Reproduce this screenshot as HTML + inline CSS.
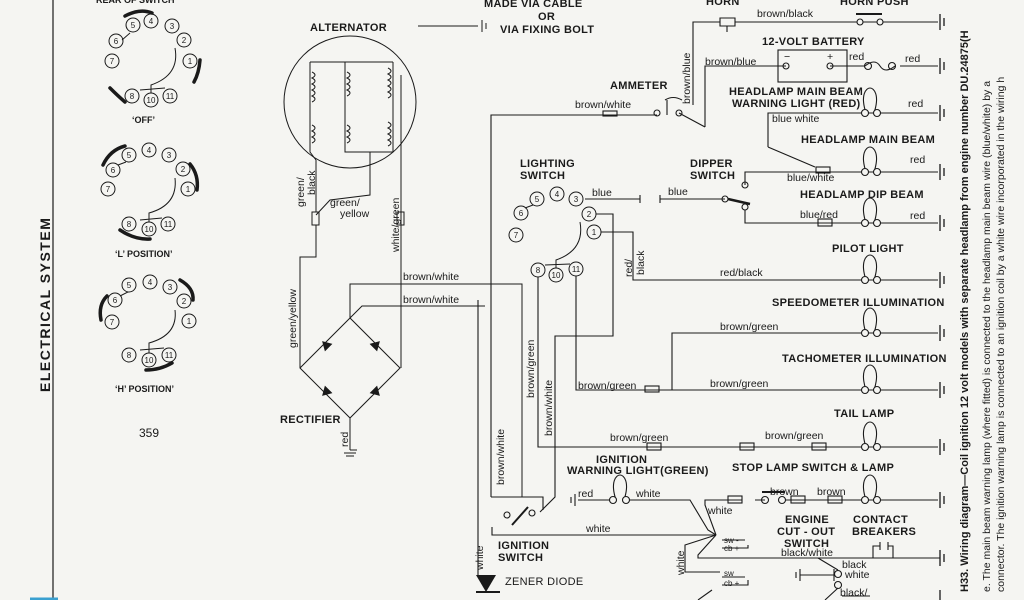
<!DOCTYPE html>
<html><head><meta charset="utf-8"><style>
html,body{margin:0;padding:0;background:#f5f5f2;}
svg{display:block}
text{font-family:"Liberation Sans",sans-serif;fill:#1a1a1a}
.t{font-size:11px;font-weight:bold;letter-spacing:0.3px}
.w{font-size:10.5px}
.n{font-size:8px;text-anchor:middle}
</style></head><body>
<svg width="1024" height="600" viewBox="0 0 1024 600" xmlns="http://www.w3.org/2000/svg">
<rect width="1024" height="600" fill="#f5f5f2"/>
<g stroke="#1a1a1a" stroke-width="1.2" fill="none">
<line x1="53" y1="0" x2="53" y2="600"/>
<line x1="30" y1="599" x2="58" y2="599" stroke="#3aa0d0" stroke-width="3"/>
</g>
<text class="t" transform="translate(50,392) rotate(-90)" style="font-size:14px;letter-spacing:1.5px">ELECTRICAL SYSTEM</text>
<text class="w" x="96" y="3" style="font-size:9px;font-weight:bold">REAR OF SWITCH</text>
<text class="w" x="132" y="123" style="font-size:9px;font-weight:bold">‘OFF’</text>
<text class="w" x="115" y="257" style="font-size:9px;font-weight:bold">‘L’ POSITION’</text>
<text class="w" x="115" y="392" style="font-size:9px;font-weight:bold">‘H’ POSITION’</text>
<text class="w" x="139" y="437" style="font-size:12px">359</text>

<g stroke="#1a1a1a" stroke-width="1" fill="#f5f5f2">
<circle cx="133" cy="25" r="7"/><circle cx="151" cy="21" r="7"/><circle cx="172" cy="26" r="7"/><circle cx="184" cy="40" r="7"/><circle cx="190" cy="61" r="7"/><circle cx="116" cy="41" r="7"/><circle cx="112" cy="61" r="7"/><circle cx="132" cy="96" r="7"/><circle cx="151" cy="100" r="7"/><circle cx="170" cy="96" r="7"/>
<circle cx="129" cy="155" r="7"/><circle cx="149" cy="150" r="7"/><circle cx="169" cy="155" r="7"/><circle cx="183" cy="169" r="7"/><circle cx="188" cy="189" r="7"/><circle cx="113" cy="170" r="7"/><circle cx="108" cy="189" r="7"/><circle cx="129" cy="224" r="7"/><circle cx="149" cy="229" r="7"/><circle cx="168" cy="224" r="7"/>
<circle cx="129" cy="285" r="7"/><circle cx="150" cy="282" r="7"/><circle cx="170" cy="287" r="7"/><circle cx="184" cy="301" r="7"/><circle cx="189" cy="321" r="7"/><circle cx="115" cy="300" r="7"/><circle cx="112" cy="322" r="7"/><circle cx="129" cy="355" r="7"/><circle cx="149" cy="360" r="7"/><circle cx="169" cy="355" r="7"/>
<circle cx="557" cy="194" r="7"/><circle cx="537" cy="199" r="7"/><circle cx="576" cy="199" r="7"/><circle cx="521" cy="213" r="7"/><circle cx="516" cy="235" r="7"/><circle cx="589" cy="214" r="7"/><circle cx="594" cy="232" r="7"/><circle cx="538" cy="270" r="7"/><circle cx="556" cy="275" r="7"/><circle cx="576" cy="269" r="7"/>
</g>
<g class="n">
<text x="133" y="28">5</text><text x="151" y="24">4</text><text x="172" y="29">3</text><text x="184" y="43">2</text><text x="190" y="64">1</text><text x="116" y="44">6</text><text x="112" y="64">7</text><text x="132" y="99">8</text><text x="151" y="103">10</text><text x="170" y="99">11</text>
<text x="129" y="158">5</text><text x="149" y="153">4</text><text x="169" y="158">3</text><text x="183" y="172">2</text><text x="188" y="192">1</text><text x="113" y="173">6</text><text x="108" y="192">7</text><text x="129" y="227">8</text><text x="149" y="232">10</text><text x="168" y="227">11</text>
<text x="129" y="288">5</text><text x="150" y="285">4</text><text x="170" y="290">3</text><text x="184" y="304">2</text><text x="189" y="324">1</text><text x="115" y="303">6</text><text x="112" y="325">7</text><text x="129" y="358">8</text><text x="149" y="363">10</text><text x="169" y="358">11</text>
<text x="557" y="197">4</text><text x="537" y="202">5</text><text x="576" y="202">3</text><text x="521" y="216">6</text><text x="516" y="238">7</text><text x="589" y="217">2</text><text x="594" y="235">1</text><text x="538" y="273">8</text><text x="556" y="278">10</text><text x="576" y="272">11</text>
</g>
<g stroke="#1a1a1a" stroke-width="1" fill="none">
<path d="M175,48 Q180,75 151,85 L151,93 M140,90 L165,88"/><path d="M122,40 L130,33"/>
<path d="M175,178 Q178,205 149,213 L149,222 M140,220 L162,218"/><path d="M118,165 L126,162"/>
<path d="M175,310 Q178,335 149,343 L149,353 M140,350 L164,348"/><path d="M120,296 L128,292"/>
<path d="M580,222 Q585,250 556,260 L556,268 M545,265 L570,264"/><path d="M525,208 L533,205"/>
</g>
<g stroke="#1a1a1a" stroke-width="3.5" fill="none" stroke-linecap="round">
<path d="M125,16 Q140,8 152,13"/><path d="M200,60 Q199,73 194,82"/><path d="M110,88 Q118,96 125,102"/>
<path d="M103,165 Q110,150 125,146"/><path d="M190,164 Q199,175 197,190"/><path d="M120,230 Q135,240 150,239"/>
<path d="M101,320 Q98,305 107,296"/><path d="M180,280 Q194,288 193,300"/><path d="M146,370 Q160,370 172,363"/>
</g>

<text class="t" x="310" y="31">ALTERNATOR</text>
<g stroke="#1a1a1a" stroke-width="1" fill="none">
<line x1="418" y1="26" x2="478" y2="26"/><line x1="482" y1="20" x2="482" y2="32"/><line x1="486" y1="23" x2="486" y2="29"/>
<circle cx="350" cy="102" r="66"/>
<path d="M310,62 L393,62 M310,62 L310,152 L316,160 L316,212 M345,62 L345,152 L370,152 L370,195 L330,200 L316,215 M393,62 L393,152 L348,152"/>
<path d="M401,75 L401,368"/>
</g>
<g stroke="#1a1a1a" stroke-width="1" fill="none">
<path d="M312,72 q6,3 0,6 q6,3 0,6 q6,3 0,6 q6,3 0,6 q6,3 0,6"/><path d="M312,125 q6,3 0,6 q6,3 0,6 q6,3 0,6"/>
<path d="M347,72 q6,3 0,6 q6,3 0,6 q6,3 0,6 q6,3 0,6"/><path d="M347,125 q6,3 0,6 q6,3 0,6 q6,3 0,6"/>
<path d="M388,68 q6,3 0,6 q6,3 0,6 q6,3 0,6 q6,3 0,6 q6,3 0,6"/><path d="M388,122 q6,3 0,6 q6,3 0,6 q6,3 0,6 q6,3 0,6"/>
<rect x="312" y="212" width="7" height="13"/><rect x="397" y="212" width="7" height="13"/>
<path d="M316,225 L316,257 L300,257 L300,368 L350,418 L350,450 M350,450 L357,450"/>
<path d="M300,368 L350,318 L400,368 L350,418"/>
<path d="M350,318 L350,284 L522,284 L522,497"/>
<path d="M350,318 L362,306 L485,306"/>
<line x1="344" y1="453" x2="356" y2="453"/><line x1="346" y1="456" x2="354" y2="456"/>
</g>
<g fill="#1a1a1a" stroke="#1a1a1a" stroke-width="1.5">
<path d="M322,348 l8,0 l-4,-7z" transform="rotate(-45 326 345)"/><path d="M372,348 l8,0 l-4,-7z" transform="rotate(45 376 345)"/>
<path d="M322,395 l8,0 l-4,-7z" transform="rotate(-135 326 392)"/><path d="M372,395 l8,0 l-4,-7z" transform="rotate(135 376 392)"/>
</g>
<text class="w" transform="translate(304,207) rotate(-90)">green/</text>
<text class="w" transform="translate(315,195) rotate(-90)">black</text>
<text class="w" x="330" y="206">green/</text><text class="w" x="340" y="217">yellow</text>
<text class="w" transform="translate(399,252) rotate(-90)">white/green</text>
<text class="w" transform="translate(296,348) rotate(-90)">green/yellow</text>
<text class="w" x="403" y="280">brown/white</text><text class="w" x="403" y="303">brown/white</text>
<text class="t" x="280" y="423">RECTIFIER</text>
<text class="w" transform="translate(348,447) rotate(-90)">red</text>

<text class="t" x="484" y="7">MADE VIA CABLE</text><text class="t" x="538" y="20">OR</text><text class="t" x="500" y="33">VIA FIXING BOLT</text>

<g stroke="#1a1a1a" stroke-width="1.1" fill="none">
<path d="M693,105 L693,22 L720,22"/><path d="M720,18 L735,18 L735,26 L720,26z M727,26 L727,32"/>
<path d="M735,22 L857,22 M863,22 L877,22 M883,22 L938,22"/><circle cx="860" cy="22" r="3"/><circle cx="880" cy="22" r="3"/><line x1="856" y1="14" x2="882" y2="14" stroke-width="2"/>
<rect x="778" y="50" width="69" height="32"/>
<path d="M705,127 L705,66 L786,66 M830,66 L848,66 L865,66 M900,66 L938,66"/><circle cx="786" cy="66" r="3"/><circle cx="830" cy="66" r="3"/>
<path d="M865,66 q10,-8 15,0 q5,8 15,0"/><circle cx="868" cy="66" r="3.5"/><circle cx="892" cy="66" r="3.5"/>
<path d="M491,497 L491,115 L657,115"/><rect x="603" y="111" width="14" height="5"/><circle cx="657" cy="113" r="3"/><circle cx="679" cy="113" r="3"/>
<path d="M665,100 Q673,95 682,100 M667,115 L667,100"/><path d="M679,113 L705,127"/>
<path d="M768,147 L768,113 L938,113"/><path d="M815,167 L768,147"/>
<path d="M745,185 L745,172 L938,172"/><rect x="816" y="167" width="14" height="6"/><circle cx="745" cy="185" r="3"/>
<path d="M585,199 L640,199 M640,195 L640,203 M660,195 L660,203 M660,199 L725,199"/><circle cx="725" cy="199" r="3"/><circle cx="745" cy="207" r="3"/><line x1="728" y1="199" x2="750" y2="204" stroke-width="2.5"/>
<path d="M745,210 L745,223 L938,223"/><rect x="818" y="219" width="14" height="7"/>
<path d="M596,214 L613,214 L613,336 L555,336 L555,497 L540,512"/>
<path d="M601,232 L633,232 L633,280 L648,280 L938,280"/>
<path d="M538,277 L538,447 L938,447"/><path d="M576,276 L576,390 L938,390"/>
<path d="M672,390 L672,333 L938,333"/><rect x="645" y="386" width="14" height="6"/>
<rect x="647" y="443" width="14" height="7"/><rect x="740" y="443" width="14" height="7"/><rect x="812" y="443" width="14" height="7"/>
<path d="M491,497 L543,497 L543,510"/><circle cx="507" cy="515" r="3"/><circle cx="532" cy="513" r="3"/><line x1="512" y1="525" x2="528" y2="507" stroke-width="2"/>
<path d="M492,527 L492,535 L716,535"/>
<line x1="478" y1="300" x2="478" y2="575"/>
<path d="M578,500 L612,500 M628,500 L690,500 L708,530 L716,535"/>
<line x1="575" y1="494" x2="575" y2="506"/><line x1="571" y1="497" x2="571" y2="503"/>
<path d="M716,535 L705,505 L705,500 L742,500 M755,500 L765,500 M785,500 L938,500"/><rect x="728" y="496" width="14" height="7"/><circle cx="765" cy="500" r="3.5"/><circle cx="782" cy="500" r="3.5"/><line x1="762" y1="492" x2="785" y2="492" stroke-width="2"/><rect x="791" y="496" width="14" height="7"/><rect x="828" y="496" width="14" height="7"/>
<path d="M716,535 L685,545 L685,572 L720,572"/><path d="M716,535 L698,555 L698,558 L940,558"/>
<path d="M722,540 L745,540 M722,548 L748,548 L748,545"/>
<path d="M722,577 L745,577 M722,585 L748,585 L748,580"/><path d="M698,600 L712,590"/>
<path d="M818,558 L838,570"/><circle cx="838" cy="574" r="3.5"/><circle cx="838" cy="585" r="3.5"/>
<path d="M800,575 L834,575 M800,569 L800,581 M796,572 L796,578 M834,569 L834,581"/>
<path d="M838,588 L825,600 M842,596 L870,596"/>
<path d="M873,558 L873,546 L880,546 M888,546 L893,546 L893,558 M880,542 L880,550 M888,542 L888,550"/>
</g>
<g stroke="#1a1a1a" stroke-width="1.1" fill="#f5f5f2">
<path d="M866,113 C860,95 866,88 870,88 C874,88 880,95 874,113" fill="none"/><circle cx="865" cy="113" r="3.5"/><circle cx="877" cy="113" r="3.5"/>
<path d="M866,172 C860,154 866,147 870,147 C874,147 880,154 874,172" fill="none"/><circle cx="865" cy="172" r="3.5"/><circle cx="877" cy="172" r="3.5"/>
<path d="M866,223 C860,205 866,198 870,198 C874,198 880,205 874,223" fill="none"/><circle cx="865" cy="223" r="3.5"/><circle cx="877" cy="223" r="3.5"/>
<path d="M866,280 C860,262 866,255 870,255 C874,255 880,262 874,280" fill="none"/><circle cx="865" cy="280" r="3.5"/><circle cx="877" cy="280" r="3.5"/>
<path d="M866,333 C860,315 866,308 870,308 C874,308 880,315 874,333" fill="none"/><circle cx="865" cy="333" r="3.5"/><circle cx="877" cy="333" r="3.5"/>
<path d="M866,390 C860,372 866,365 870,365 C874,365 880,372 874,390" fill="none"/><circle cx="865" cy="390" r="3.5"/><circle cx="877" cy="390" r="3.5"/>
<path d="M866,447 C860,429 866,422 870,422 C874,422 880,429 874,447" fill="none"/><circle cx="865" cy="447" r="3.5"/><circle cx="877" cy="447" r="3.5"/>
<path d="M866,500 C860,482 866,475 870,475 C874,475 880,482 874,500" fill="none"/><circle cx="865" cy="500" r="3.5"/><circle cx="877" cy="500" r="3.5"/>
<path d="M616,500 C610,482 616,475 620,475 C624,475 630,482 624,500" fill="none"/><circle cx="613" cy="500" r="3.5"/><circle cx="626" cy="500" r="3.5"/>
</g>
<g stroke="#1a1a1a" stroke-width="1.3">
<path d="M940,14v16M944,18v8 M940,58v16M944,62v8 M940,105v16M944,109v8 M940,164v16M944,168v8 M940,215v16M944,219v8 M940,272v16M944,276v8 M940,325v16M944,329v8 M940,382v16M944,386v8 M940,439v16M944,443v8 M940,492v16M944,496v8 M940,550v16M944,554v8 M940,590v12"/>
</g>
<path d="M476,575 L496,575 L486,592z" fill="#1a1a1a"/><line x1="476" y1="592" x2="500" y2="592" stroke="#1a1a1a" stroke-width="2"/>

<text class="t" x="706" y="5">HORN</text><text class="t" x="840" y="5">HORN PUSH</text>
<text class="w" x="757" y="17">brown/black</text>
<text class="t" x="762" y="45">12-VOLT BATTERY</text>
<text class="w" x="784" y="60">−</text><text class="w" x="827" y="60">+</text><text class="w" x="849" y="60">red</text><text class="w" x="905" y="62">red</text>
<text class="w" x="705" y="65">brown/blue</text>
<text class="w" transform="translate(690,104) rotate(-90)">brown/blue</text>
<text class="t" x="610" y="89">AMMETER</text>
<text class="w" x="575" y="108">brown/white</text>
<text class="t" x="729" y="95">HEADLAMP MAIN BEAM</text><text class="t" x="732" y="107">WARNING LIGHT (RED)</text>
<text class="w" x="908" y="107">red</text><text class="w" x="772" y="122">blue white</text>
<text class="t" x="801" y="143">HEADLAMP MAIN BEAM</text><text class="w" x="910" y="163">red</text>
<text class="w" x="787" y="181">blue/white</text>
<text class="t" x="690" y="167">DIPPER</text><text class="t" x="690" y="179">SWITCH</text>
<text class="t" x="800" y="198">HEADLAMP DIP BEAM</text><text class="w" x="800" y="218">blue/red</text><text class="w" x="910" y="219">red</text>
<text class="w" x="592" y="196">blue</text><text class="w" x="668" y="195">blue</text>
<text class="t" x="520" y="167">LIGHTING</text><text class="t" x="520" y="179">SWITCH</text>
<text class="w" transform="translate(632,277) rotate(-90)">red/</text><text class="w" transform="translate(644,275) rotate(-90)">black</text>
<text class="t" x="832" y="252">PILOT LIGHT</text><text class="w" x="720" y="276">red/black</text>
<text class="t" x="772" y="306">SPEEDOMETER ILLUMINATION</text><text class="w" x="720" y="330">brown/green</text>
<text class="t" x="782" y="362">TACHOMETER ILLUMINATION</text><text class="w" x="578" y="389">brown/green</text><text class="w" x="710" y="387">brown/green</text>
<text class="t" x="834" y="417">TAIL LAMP</text><text class="w" x="610" y="441">brown/green</text><text class="w" x="765" y="439">brown/green</text>
<text class="w" transform="translate(534,398) rotate(-90)">brown/green</text>
<text class="w" transform="translate(552,436) rotate(-90)">brown/white</text>
<text class="w" transform="translate(504,485) rotate(-90)">brown/white</text>
<text class="t" x="596" y="463">IGNITION</text><text class="t" x="567" y="474">WARNING LIGHT(GREEN)</text>
<text class="t" x="732" y="471">STOP LAMP SWITCH &amp; LAMP</text>
<text class="w" x="578" y="497">red</text><text class="w" x="636" y="497">white</text>
<text class="w" x="770" y="495">brown</text><text class="w" x="817" y="495">brown</text>
<text class="w" x="708" y="514">white</text><text class="w" x="586" y="532">white</text>
<text class="t" x="498" y="549">IGNITION</text><text class="t" x="498" y="561">SWITCH</text>
<text class="t" x="505" y="585" style="font-weight:normal">ZENER DIODE</text>
<text class="w" transform="translate(483,570) rotate(-90)">white</text>
<text class="w" transform="translate(684,575) rotate(-90)">white</text>
<text class="t" x="785" y="523">ENGINE</text><text class="t" x="777" y="535">CUT - OUT</text><text class="t" x="784" y="547">SWITCH</text>
<text class="t" x="853" y="523">CONTACT</text><text class="t" x="852" y="535">BREAKERS</text>
<text class="w" x="781" y="556">black/white</text><text class="w" x="842" y="568">black</text><text class="w" x="845" y="578">white</text><text class="w" x="840" y="596">black/</text>
<text class="w" x="724" y="543" style="font-size:8px">sw -</text><text class="w" x="724" y="551" style="font-size:8px">cb +</text>
<text class="w" x="724" y="576" style="font-size:8px">sw</text><text class="w" x="724" y="586" style="font-size:8px">cb +</text>

<text transform="translate(968,592) rotate(-90)" style="font-size:11px;font-weight:bold">H33. Wiring diagram—Coil ignition 12 volt models with separate headlamp from engine number DU.24875(H</text>
<text transform="translate(990,592) rotate(-90)" style="font-size:10.5px">e.  The main beam warning lamp (where fitted) is connected to the headlamp main beam wire (blue/white) by a</text>
<text transform="translate(1004,592) rotate(-90)" style="font-size:10.5px">connector.  The ignition warning lamp is connected to an ignition coil by a white wire incorporated in the wiring h</text>
</svg>
</body></html>
